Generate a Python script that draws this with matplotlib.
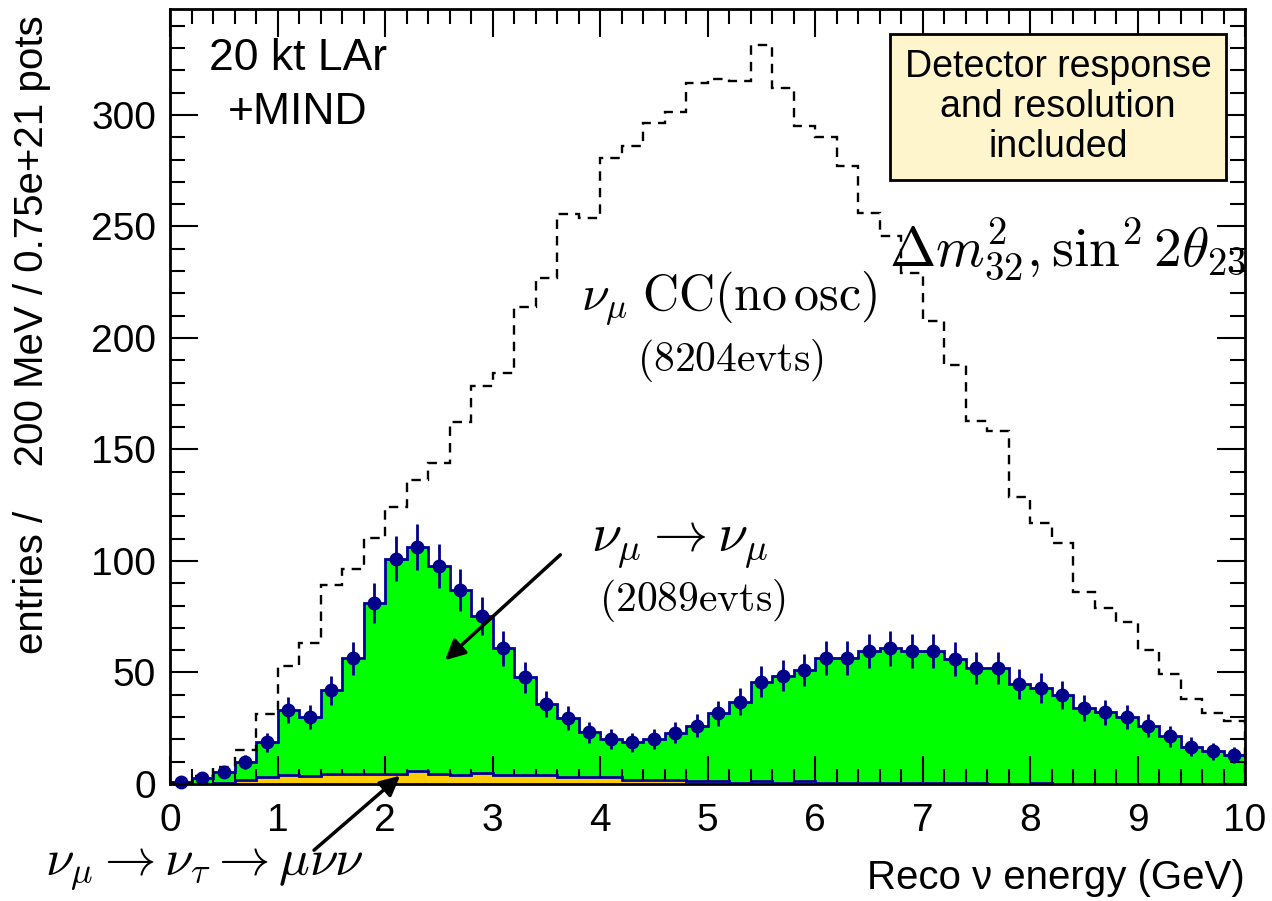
import matplotlib
matplotlib.use("Agg")
import matplotlib.pyplot as plt
import numpy as np
from matplotlib.ticker import MultipleLocator

plt.rcParams["font.family"] = ["Liberation Sans", "DejaVu Sans"]
plt.rcParams["mathtext.fontset"] = "cm"

# 50 bins of 200 MeV between 0 and 10 GeV
bin_edges = np.linspace(0.0, 10.0, 51)

# nu_mu CC without oscillation (dashed line)
no_osc = [0.5, 3.5, 7.5, 15.2, 31.3, 52.7, 63.4, 89.1, 96.6, 110.3,
          124.0, 136.3, 143.8, 162.5, 178.5, 184.2, 213.7, 226.8, 255.4, 254.0,
          280.6, 286.1, 296.3, 301.5, 314.2, 316.0, 315.0, 331.4, 312.3, 295.2,
          290.0, 277.0, 256.0, 245.7, 229.3, 207.6, 187.8, 162.7, 158.4, 128.5,
          116.9, 107.9, 86.1, 78.9, 72.5, 59.9, 49.1, 37.9, 31.7, 28.2]

# oscillated nu_mu -> nu_mu (green)
osc = [0.7, 2.5, 5.2, 10.0, 18.7, 33.1, 30.1, 42.1, 56.3, 81.3,
       101.0, 106.3, 97.8, 86.9, 75.3, 60.8, 47.8, 35.9, 29.7, 23.2,
       20.0, 18.7, 20.0, 23.0, 26.2, 31.7, 36.9, 45.9, 48.6, 51.0,
       56.4, 56.4, 59.7, 60.8, 59.7, 59.7, 56.0, 52.2, 52.2, 44.8,
       43.0, 40.0, 34.0, 32.1, 30.1, 26.1, 21.3, 16.8, 14.6, 13.1]
osc_err = [0.8, 1.6, 2.3, 3.2, 4.3, 5.8, 5.5, 6.5, 7.5, 9.0,
           10.0, 10.3, 9.9, 9.3, 8.7, 7.8, 6.9, 6.0, 5.4, 4.8,
           4.5, 4.3, 4.5, 4.8, 5.1, 5.6, 6.1, 6.8, 7.0, 7.1,
           7.5, 7.5, 7.7, 7.8, 7.7, 7.7, 7.5, 7.2, 7.2, 6.7,
           6.6, 6.3, 5.8, 5.7, 5.5, 5.1, 4.6, 4.1, 3.8, 3.6]

# nu_mu -> nu_tau -> mu nu nu background (orange)
tau_bkg = [0.0, 0.0, 0.5, 2.0, 3.0, 4.0, 3.5, 4.7, 4.7, 4.7,
           4.7, 6.0, 4.7, 4.0, 5.0, 4.2, 4.2, 4.2, 3.0, 3.0,
           3.0, 2.0, 2.0, 2.0, 1.2, 1.2, 0.4, 1.2, 0.4, 1.2,
           0.6, 0.6, 0.6, 0.6, 0.6, 0.6, 0.6, 0.6, 0.0, 0.0,
           0.6, 0.0, 0.0, 0.0, 0.0, 0.0, 0.0, 0.0, 0.0, 0.0]

x_ticks = np.arange(0, 11, 1)
y_ticks = np.arange(0, 301, 50)

navy = "#000099"
centers = 0.5 * (bin_edges[:-1] + bin_edges[1:])

fig = plt.figure(figsize=(12.72, 9.01), dpi=100)
ax = fig.add_axes([170 / 1272, 1 - 784 / 901, 1075 / 1272, 775 / 901])

ax.stairs(osc, bin_edges, fill=True, color="#00ff00", zorder=1)
ax.stairs(tau_bkg, bin_edges, fill=True, color="#ffcc00", zorder=2)
ax.stairs(osc, bin_edges, color=navy, lw=2, zorder=3)
ax.stairs(tau_bkg, bin_edges, color=navy, lw=2, zorder=3)
ax.stairs(no_osc, bin_edges, color="black", lw=1.7, ls=(0, (4, 3)), zorder=4)
ax.errorbar(centers, osc, yerr=osc_err, fmt="o", color="#00008b", ms=9,
            elinewidth=2, capsize=0, zorder=5, clip_on=False)

ax.set_xlim(0, 10)
ax.set_ylim(0, 347.5)
ax.set_xticks(x_ticks)
ax.set_yticks(y_ticks)
ax.xaxis.set_minor_locator(MultipleLocator(0.2))
ax.yaxis.set_minor_locator(MultipleLocator(10))
ax.tick_params(which="both", direction="in", top=True, right=True, width=1.5)
ax.tick_params(which="major", length=20, labelsize=28)
ax.tick_params(which="minor", length=11)
ax.tick_params(axis="x", pad=14)
ax.tick_params(axis="y", pad=10)
for sp in ax.spines.values():
    sp.set_linewidth(2)
    sp.set_zorder(6)

fig.text(32 / 1272, 1 - 15 / 901, "entries /    200 MeV / 0.75e+21 pots",
         rotation=90, ha="center", va="top", fontsize=29)
fig.text(1245 / 1272, 1 - 878 / 901, "Reco \u03bd energy (GeV)",
         ha="right", va="center", fontsize=29)

ax.text(1.19, 325.5, "20 kt LAr", ha="center", va="center", fontsize=32)
ax.text(1.19, 301, "+MIND", ha="center", va="center", fontsize=32)

ax.text(8.26, 303.5, "Detector response\nand resolution\nincluded",
        ha="center", va="center", fontsize=27, linespacing=1.13,
        bbox=dict(boxstyle="square,pad=0.4", fc="#fff5cc", ec="black", lw=2))

ax.text(8.35, 239.5, r"$\Delta m^2_{32}, \sin^2 2\theta_{23}$",
        ha="center", va="center", fontsize=40, clip_on=False)
ax.text(5.2, 218, r"$\nu_\mu\;\mathrm{CC(no\,osc)}$",
        ha="center", va="center", fontsize=36)
ax.text(5.21, 190, r"$\mathrm{(8204evts)}$", ha="center", va="center", fontsize=30)
ax.text(4.74, 107, r"$\nu_\mu \rightarrow \nu_\mu$",
        ha="center", va="center", fontsize=39)
ax.text(4.86, 82.5, r"$\mathrm{(2089evts)}$", ha="center", va="center", fontsize=30)
ax.text(0.32, -41, r"$\nu_\mu \rightarrow \nu_\tau \rightarrow \mu\nu\nu$",
        ha="center", va="baseline", fontsize=37, clip_on=False)

arrow = dict(arrowstyle="-|>", lw=2.5, color="black", mutation_scale=30)
ax.annotate("", xy=(2.54, 54.7), xytext=(3.65, 103.6), arrowprops=arrow, zorder=7)
ax.annotate("", xy=(2.16, 4.5), xytext=(1.32, -30.5), arrowprops=arrow,
            annotation_clip=False, zorder=7)

fig.savefig("out.png", dpi=100)
